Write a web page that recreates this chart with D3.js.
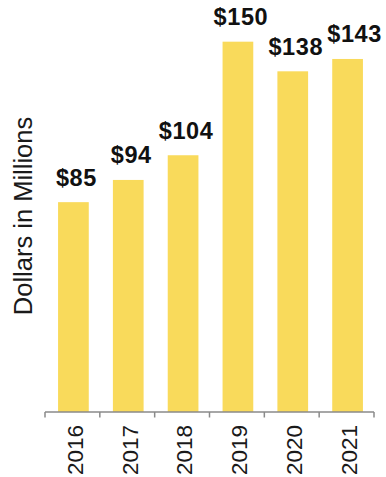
<!DOCTYPE html>
<html>
<head>
<meta charset="utf-8">
<script src="https://cdn.jsdelivr.net/npm/d3@7/dist/d3.min.js"></script>
<style>
  html, body { margin: 0; padding: 0; background: #fff; }
  svg { display: block; }
  text { font-family: "Liberation Sans", Arial, sans-serif; }
</style>
</head>
<body>
<svg id="chart" width="386" height="477"></svg>
<script>
// Annual amounts, dollars in millions
const years = ["2016", "2017", "2018", "2019", "2020", "2021"];
const amounts = [85, 94, 104, 150, 138, 143];
const valueLabels = ["$85", "$94", "$104", "$150", "$138", "$143"];
const axisTitle = "Dollars in Millions";

const svg = d3.select("#chart");
const W = 386, H = 477;
const plotLeft = 45, plotRight = 374, plotBase = 412, plotTop = 17;

svg.append("rect").attr("width", W).attr("height", H).attr("fill", "#fff");

const x = d3.scaleBand().domain(years).range([plotLeft, plotRight]).padding(0);
const y = d3.scaleLinear().domain([0, 160]).range([plotBase, plotTop]);

const barW = x.bandwidth() * 0.56;
const barColor = "#F9DA5B";

// bars
svg.append("g").selectAll("rect")
  .data(years)
  .join("rect")
  .attr("x", (d) => x(d) + x.bandwidth() / 2 - barW / 2 + 1)
  .attr("y", (d, i) => y(amounts[i]))
  .attr("width", barW)
  .attr("height", (d, i) => y(0) - y(amounts[i]))
  .attr("fill", barColor);

// value labels above bars
svg.append("g").selectAll("text")
  .data(years)
  .join("text")
  .attr("x", (d, i) => x(d) + x.bandwidth() / 2 + (i === years.length - 1 ? 8 : 4))
  .attr("y", (d, i) => y(amounts[i]) - 16.5)
  .attr("text-anchor", "middle")
  .attr("font-size", 23.5)
  .attr("letter-spacing", 0.6)
  .attr("font-weight", "bold")
  .attr("fill", "#111")
  .text((d, i) => valueLabels[i]);

// x axis: baseline with ticks at category boundaries
const axis = svg.append("g").attr("transform", `translate(0,${plotBase})`);
axis.append("line")
  .attr("x1", plotLeft).attr("x2", plotRight)
  .attr("y1", 0).attr("y2", 0)
  .attr("stroke", "#8a8a8a").attr("stroke-width", 1.5);
const bounds = years.map((d) => x(d)).concat([x(years[years.length - 1]) + x.bandwidth()]);
axis.selectAll("line.tick")
  .data(bounds)
  .join("line")
  .attr("class", "tick")
  .attr("x1", (d) => d).attr("x2", (d) => d)
  .attr("y1", 0).attr("y2", 5.5)
  .attr("stroke", "#8a8a8a").attr("stroke-width", 1.5);

// rotated year labels
svg.append("g").selectAll("text")
  .data(years)
  .join("text")
  .attr("transform", (d) => `translate(${x(d) + x.bandwidth() / 2 + 2.5},425) rotate(-90)`)
  .attr("text-anchor", "end")
  .attr("dy", "0.35em")
  .attr("font-size", 22.5)
  .attr("fill", "#1a1a1a")
  .text((d) => d);

// y axis title
svg.append("text")
  .attr("transform", "translate(31.5,216) rotate(-90)")
  .attr("text-anchor", "middle")
  .attr("font-size", 25.5)
  .attr("fill", "#1a1a1a")
  .text(axisTitle);
</script>
</body>
</html>
